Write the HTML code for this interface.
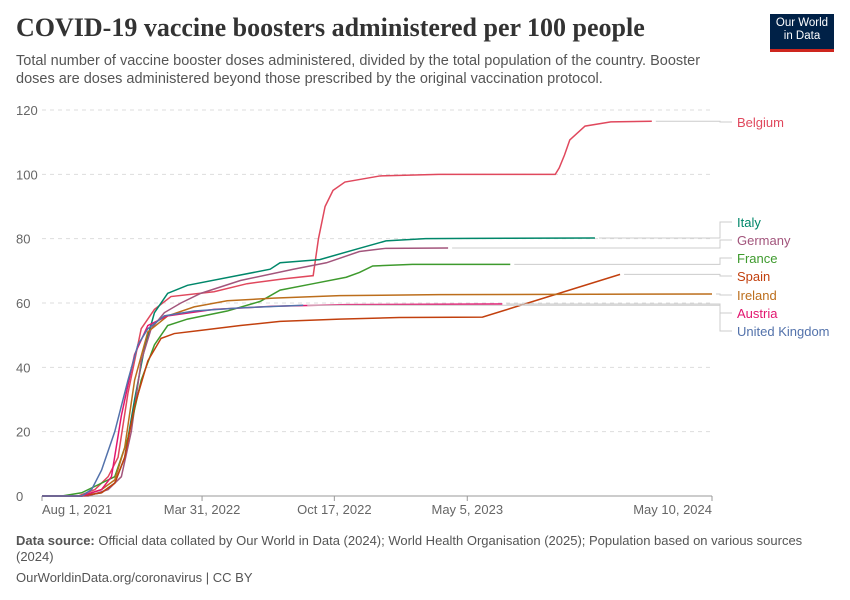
<!DOCTYPE html>
<html><head><meta charset="utf-8"><style>
body{margin:0;background:#fff;font-family:"Liberation Sans",sans-serif;}
#wrap{position:relative;width:850px;height:600px;overflow:hidden}
h1{position:absolute;left:16px;top:13px;margin:0;font-family:"Liberation Serif",serif;font-size:26px;font-weight:bold;color:#333}
.sub{position:absolute;left:16px;top:52px;width:720px;font-size:14.5px;line-height:18px;color:#555}
.logo{position:absolute;left:770px;top:14px;width:64px;height:38px;background:#002147;color:#fff;font-size:11.5px;line-height:13px;text-align:center;padding-top:3px;box-sizing:border-box;border-bottom:3px solid #ce261e}
.foot{position:absolute;left:16px;font-size:13px;color:#555}
</style></head><body><div id="wrap">
<h1>COVID-19 vaccine boosters administered per 100 people</h1>
<div class="sub">Total number of vaccine booster doses administered, divided by the total population of the country. Booster doses are doses administered beyond those prescribed by the original vaccination protocol.</div>
<div class="logo">Our World<br>in Data</div>
<svg id="chart" width="850" height="600" style="position:absolute;left:0;top:0"></svg>
<div class="foot" style="top:533px;width:800px;line-height:16px"><b>Data source:</b> Official data collated by Our World in Data (2024); World Health Organisation (2025); Population based on various sources (2024)</div>
<div class="foot" style="top:570px">OurWorldinData.org/coronavirus | CC BY</div>
</div>
<script>
const yTicks=[0,20,40,60,80,100,120];
const xTickDays=[0,242,442,643,1013];
const xTickLabels=["Aug 1, 2021","Mar 31, 2022","Oct 17, 2022","May 5, 2023","May 10, 2024"];
const names=["Belgium","Italy","Germany","France","Spain","Ireland","Austria","United Kingdom"];
const colors=["#e0485d","#00876a","#a2557c","#3e9a2d","#c2400e","#bc6e1c","#e2166f","#5372ab"];
const labelY=[122,222,240,258,276,295,313,331];
const bel=[[0,0],[55,0],[80,2],[100,6],[115,12],[130,32],[150,52],[170,58],[195,62],[260,63.5],[310,66],[365,67.5],[410,68.5],[418,80],[428,90],[440,95],[458,97.6],[511,99.5],[600,100],[776,100],[782,102],[790,106],[798,110.7],[821,115],[860,116.3],[922,116.5]];
const ita=[[0,0],[60,0],[90,1],[110,4],[125,12],[140,30],[155,46],[170,57],[190,63],[220,65.5],[300,68.7],[345,70.5],[360,72.5],[420,73.5],[480,77],[520,79.3],[580,80],[650,80.1],[836,80.2]];
const ger=[[0,0],[70,0],[100,2],[120,6],[135,20],[150,42],[165,52],[185,57],[210,60],[240,63],[300,67],[380,70.5],[430,72.5],[480,76],[520,77],[614,77.1]];
const fra=[[0,0],[30,0],[60,1],[90,4],[110,6],[130,18],[150,36],[170,47],[190,53],[220,55],[280,57.5],[330,60.5],[360,64],[410,66],[460,68],[480,69.5],[500,71.5],[560,72],[708,72]];
const spa=[[0,0],[60,0],[90,1],[110,4],[125,12],[140,28],[160,42],[180,49],[200,50.5],[240,51.5],[300,53],[360,54.3],[450,55],[540,55.5],[666,55.6],[874,68.9]];
const ire=[[0,0],[60,0],[90,2],[110,5],[125,15],[140,36],[160,51],[190,56],[230,58.8],[280,60.7],[350,61.5],[450,62.3],[600,62.6],[1013,62.8]];
const aus=[[0,0],[60,0],[90,2],[105,6],[120,25],[140,44],[160,53],[190,56],[260,58],[350,59],[460,59.5],[696,59.7]];
const uk=[[0,0],[60,0],[75,2],[90,8],[110,20],[130,36],[145,47],[160,52],[185,56],[230,57.5],[300,58.5],[395,59.3]];
const series=[bel,ita,ger,fra,spa,ire,aus,uk];
const X=d=>42+d*(670/1013), Y=v=>496-v*(386/120);
const svg=document.getElementById('chart');const NS='http://www.w3.org/2000/svg';
function mk(t,a){const e=document.createElementNS(NS,t);for(const k in a)e.setAttribute(k,a[k]);svg.appendChild(e);return e;}
yTicks.forEach(v=>{
 if(v>0){const g=mk('line',{x1:42,x2:712,y1:Y(v),y2:Y(v),stroke:'#ddd','stroke-dasharray':'4,4'});
 
 }
 const t=mk('text',{x:16,y:Y(v)+5,'font-size':13,fill:'#666','font-family':'Liberation Sans'});t.textContent=v;
 
 
});
const ax=mk('line',{x1:42,x2:712,y1:496,y2:496,stroke:'#999'});


xTickDays.forEach((d,i)=>{
 mk('line',{x1:X(d),x2:X(d),y1:496,y2:501,stroke:'#999'});
 const anc=i==0?'start':(i==xTickDays.length-1?'end':'middle');
 const t=mk('text',{x:X(d),y:514,'font-size':13,fill:'#666','text-anchor':anc,'font-family':'Liberation Sans'});t.textContent=xTickLabels[i];
 
 
});
series.forEach((s,i)=>{
 const p=mk('polyline',{points:s.map(q=>X(q[0])+','+Y(q[1])).join(' '),fill:'none',stroke:colors[i],'stroke-width':1.5});
 
 
 const last=s[s.length-1];
 mk('path',{d:`M${X(last[0])+4},${Y(last[1])} L720,${Y(last[1])} L720,${labelY[i]} L732,${labelY[i]}`,fill:'none',stroke:'#ccc'});
 const t=mk('text',{x:737,y:labelY[i]+5,'font-size':13,fill:colors[i],'font-family':'Liberation Sans'});t.textContent=names[i];
 
 
});
</script></body></html>
